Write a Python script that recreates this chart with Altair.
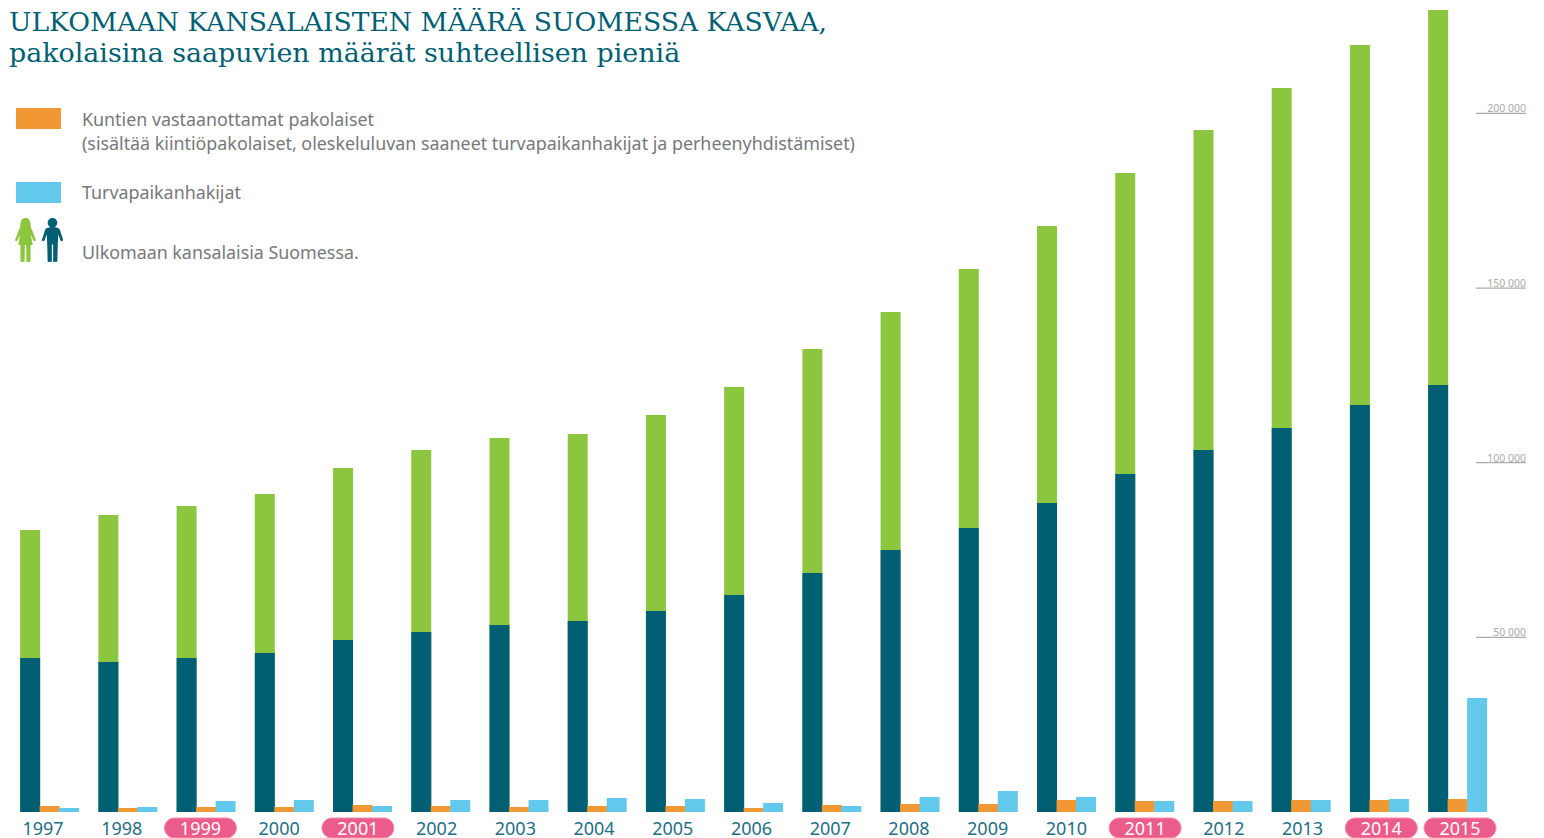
import altair as alt
import pandas as pd

years = list(range(1997, 2016))
total = [80737, 85031, 87608, 91043, 98487, 103641, 107076, 108221, 113661, 121678, 132557, 143150, 155461, 167772, 182946, 195257, 207281, 219592, 229613]
dark = [44090, 42945, 44090, 45522, 49244, 51534, 53538, 54683, 57546, 62127, 68426, 75011, 81309, 88467, 96769, 103641, 109939, 116524, 122250]
orange = [1718, 1145, 1432, 1432, 2004, 1718, 1432, 1718, 1718, 1145, 2004, 2290, 2290, 3436, 3149, 3149, 3436, 3436, 3722]
blue = [1145, 1432, 3149, 3436, 1718, 3436, 3436, 4008, 3722, 2577, 1718, 4295, 6012, 4295, 3149, 3149, 3436, 3722, 32638]
pill_years = [1999, 2001, 2011, 2014, 2015]
ticks = [50000, 100000, 150000, 200000]
tick_labels = ["50 000", "100 000", "150 000", "200 000"]

SERIES = [("green", total, "a"), ("dark", dark, "a"), ("orange", orange, "b"), ("blue", blue, "c")]
rows = []
for name, vals, slot in SERIES:
    for y, v in zip(years, vals):
        rows.append({"year": y, "series": name, "slot": slot, "value": v})
df = pd.DataFrame(rows)

C = {"green": "#8CC63F", "dark": "#005F73", "orange": "#F19733", "blue": "#63C9EC"}
TITLE = "#005F73"
GREY = "#77787B"
yscale = alt.Scale(domain=[-7443, 230175], nice=False, zero=False)

bars = alt.Chart(df).mark_bar(size=20).encode(
    x=alt.X("year:O", axis=None, scale=alt.Scale(range=[12.4, 1478.9], paddingInner=0.2521, paddingOuter=0)),
    xOffset=alt.XOffset("slot:N", scale=alt.Scale(domain=["a", "b", "c"])),
    y=alt.Y("value:Q", stack=None, axis=None, scale=yscale),
    color=alt.Color("series:N", legend=None, scale=alt.Scale(domain=list(C), range=list(C.values()))),
)

xq = alt.Scale(domain=[1997, 2015], range=[35, 1452], nice=False, zero=False)
label_df = pd.DataFrame({"year": years, "pill": [y in pill_years for y in years]})
pills = alt.Chart(label_df[label_df.pill]).mark_point(
    shape="M-0.52 -0.2 L0.52 -0.2 A0.2 0.2 0 0 1 0.72 0 A0.2 0.2 0 0 1 0.52 0.2 L-0.52 0.2 A0.2 0.2 0 0 1 -0.72 0 A0.2 0.2 0 0 1 -0.52 -0.2 Z",
    filled=True, fill="#EC5C8A", stroke="#F08FAE", strokeWidth=1, opacity=1, size=10000,
).encode(
    x=alt.X("year:Q", axis=None, scale=xq),
    y=alt.value(820),
)
year_text = alt.Chart(label_df).mark_text(font="Noto Sans", fontSize=18, baseline="alphabetic", align="center").encode(
    x=alt.X("year:Q", axis=None, scale=xq),
    y=alt.value(827),
    text=alt.Text("year:Q", format="d"),
    color=alt.condition("datum.pill", alt.value("#FFFFFF"), alt.value("#1F6F85")),
)

tick_df = pd.DataFrame({"v": ticks, "label": tick_labels})
tick_rules = alt.Chart(tick_df).mark_rule(color="#ABABAB", strokeWidth=1.2).encode(
    x=alt.value(1468), x2=alt.value(1518), y=alt.Y("v:Q", axis=None, scale=yscale))
tick_text = alt.Chart(tick_df).mark_text(font="Noto Sans", fontSize=10.5, color="#ABABAB", align="right", baseline="bottom", dy=1).encode(
    x=alt.value(1518), y=alt.Y("v:Q", axis=None, scale=yscale), text="label:N")

def txt(s, x, y, size, color, font="Noto Sans"):
    return alt.Chart(pd.DataFrame({"t": [s]})).mark_text(font=font, fontSize=size, color=color, align="left", baseline="alphabetic").encode(
        x=alt.value(x), y=alt.value(y), text="t:N")

def swatch(x, x2, y, y2, c):
    return alt.Chart(pd.DataFrame({"a": [0]})).mark_rect(color=c).encode(
        x=alt.value(x), x2=alt.value(x2), y=alt.value(y), y2=alt.value(y2))

def icon(path, x, y, c):
    return alt.Chart(pd.DataFrame({"a": [0]})).mark_point(shape=path, filled=True, fill=c, opacity=1, strokeWidth=0, size=1936).encode(
        x=alt.value(x), y=alt.value(y))

FEMALE = "M0 -1 C0.15 -1 0.22 -0.88 0.23 -0.72 C0.24 -0.6 0.25 -0.52 0.3 -0.46 L0.48 0.02 L0.38 0.06 L0.24 -0.25 L0.33 0.23 L0.23 0.23 L0.23 0.98 C0.23 1 0.04 1 0.04 0.98 L0.03 0.23 L-0.03 0.23 L-0.04 0.98 C-0.04 1 -0.23 1 -0.23 0.98 L-0.23 0.23 L-0.33 0.23 L-0.24 -0.25 L-0.38 0.06 L-0.48 0.02 L-0.3 -0.46 C-0.25 -0.52 -0.24 -0.6 -0.23 -0.72 C-0.22 -0.88 -0.15 -1 0 -1 Z"
MALE = "M0 -1 C0.13 -1 0.22 -0.9 0.22 -0.78 C0.22 -0.68 0.15 -0.6 0.1 -0.58 L0.22 -0.56 C0.3 -0.54 0.32 -0.5 0.34 -0.45 L0.49 0.02 L0.38 0.06 L0.26 -0.25 L0.24 0.2 L0.22 0.98 C0.22 1 0.03 1 0.03 0.98 L0.03 0.2 L-0.03 0.2 L-0.03 0.98 C-0.03 1 -0.22 1 -0.22 0.98 L-0.24 0.2 L-0.26 -0.25 L-0.38 0.06 L-0.49 0.02 L-0.34 -0.45 C-0.32 -0.5 -0.3 -0.54 -0.22 -0.56 L-0.1 -0.58 C-0.15 -0.6 -0.22 -0.68 -0.22 -0.78 C-0.22 -0.9 -0.13 -1 0 -1 Z"

layers = [
    bars, pills, year_text, tick_rules, tick_text,
    txt("ULKOMAAN KANSALAISTEN MÄÄRÄ SUOMESSA KASVAA,", 1, 23, 26.6, TITLE, "DejaVu Serif"),
    txt("pakolaisina saapuvien määrät suhteellisen pieniä", 1, 54, 26.9, TITLE, "DejaVu Serif"),
    swatch(8, 53, 100, 121, C["orange"]),
    swatch(8, 53, 174, 195, C["blue"]),
    txt("Kuntien vastaanottamat pakolaiset", 74, 118, 17.85, GREY),
    txt("(sisältää kiintiöpakolaiset, oleskeluluvan saaneet turvapaikanhakijat ja perheenyhdistämiset)", 74, 142, 17.85, GREY),
    txt("Turvapaikanhakijat", 74, 191, 17.85, GREY),
    txt("Ulkomaan kansalaisia Suomessa.", 74, 251, 17.85, GREY),
    icon(FEMALE, 17.5, 232, C["green"]),
    icon(MALE, 44.5, 232, C["dark"]),
]

chart = alt.layer(*layers).resolve_scale(x="independent", y="shared").properties(
    width=1528, height=830, padding=0, autosize=alt.AutoSizeParams(type="none")
).configure_view(stroke=None)

chart.save("out.html", embed_options={"renderer": "svg", "actions": False})
